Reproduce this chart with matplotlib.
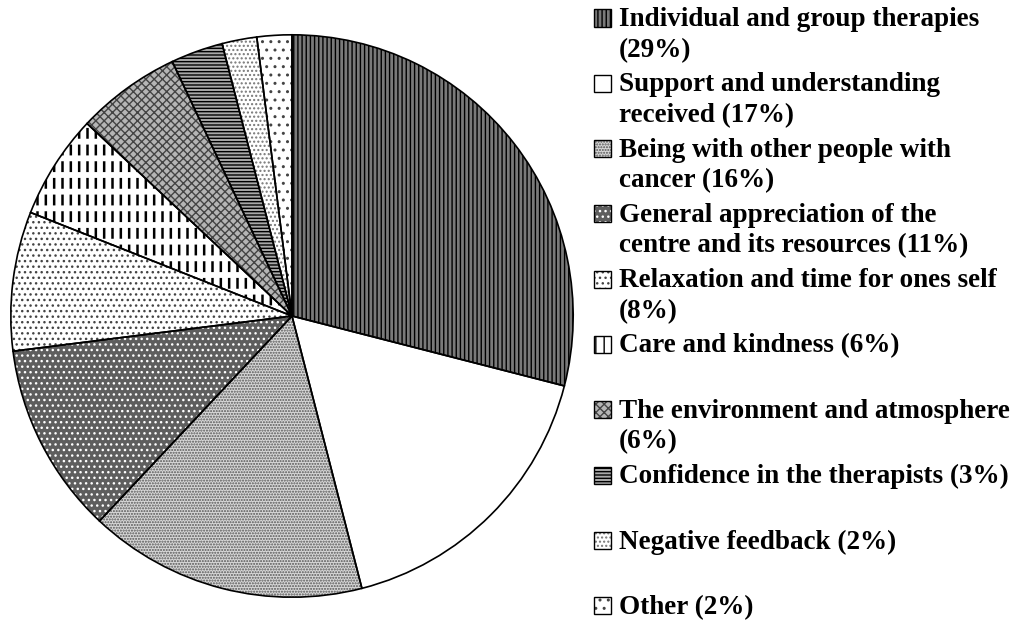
import matplotlib.pyplot as plt
from matplotlib.patches import Rectangle

# data
labels = ["Individual and group therapies\n(29%)",
          "Support and understanding\nreceived (17%)",
          "Being with other people with\ncancer (16%)",
          "General appreciation of the\ncentre and its resources (11%)",
          "Relaxation and time for ones self\n(8%)",
          "Care and kindness (6%)",
          "The environment and atmosphere\n(6%)",
          "Confidence in the therapists (3%)",
          "Negative feedback (2%)",
          "Other (2%)"]
values = [29, 17, 16, 11, 8, 6, 6, 3, 2, 2]

# look of each wedge: face, hatch, hatch colour
faces = ["#7a7a7a", "white", "#d8d8d8", "#5e5e5e", "white", "white", "#b5b5b5", "#a8a8a8", "white", "white"]
hatches = ["||||", None, "......", "...", "...", "||", "xxxx", "-----", "....", ".."]
hcols = ["black", "white", "#555555", "white", "#444444", "black", "#444444", "black", "#777777", "#444444"]
# white cuts laid over a hatch (turns the lines of "Care" into dashes)
cuts = [None, None, None, None, None, "-", None, None, None, None]

W, H = 1022, 624
fig = plt.figure(figsize=(W / 100, H / 100), dpi=100)
cx, cy, r = 292, 316, 284
ax = fig.add_axes([(cx - r) / W, (H - cy - r) / H, 2 * r / W, 2 * r / H])

wedges, _ = ax.pie(values, startangle=90, counterclock=False, radius=1,
                   wedgeprops=dict(linewidth=0))
for w, f, h, c in zip(wedges, faces, hatches, hcols):
    w.set_facecolor(f)
    w.set_edgecolor(c)
    w.set_hatch(h)
    if h == "||" and hasattr(w, "set_hatch_linewidth"):
        w.set_hatch_linewidth(1.8)
cutw, _ = ax.pie(values, startangle=90, counterclock=False, radius=1,
                 wedgeprops=dict(facecolor="none", linewidth=0, edgecolor="white"))
for w, h in zip(cutw, cuts):
    w.set_hatch(h)
    if h and hasattr(w, "set_hatch_linewidth"):
        w.set_hatch_linewidth(4.2)
# black outlines on top
outl, _ = ax.pie(values, startangle=90, counterclock=False, radius=1,
                 wedgeprops=dict(fill=False, edgecolor="black", linewidth=1.2))
ax.set_xlim(-1.01, 1.01)
ax.set_ylim(-1.01, 1.01)
ax.set_aspect("equal")

# legend drawn by hand: square by first line, entries evenly spaced
font = dict(family="Liberation Serif", weight="bold", size=19.5)
for i, lab in enumerate(labels):
    ymid = 18 + 65.3 * i
    box = (594 / W, 1 - (ymid + 8.5) / H)
    fig.add_artist(Rectangle(box, 17 / W, 17 / H, transform=fig.transFigure,
                             facecolor=faces[i], edgecolor=hcols[i], hatch=hatches[i], linewidth=0))
    fig.add_artist(Rectangle(box, 17 / W, 17 / H, transform=fig.transFigure,
                             fill=False, edgecolor="black", linewidth=1))
    fig.text(619 / W, 1 - (ymid - 11) / H, lab, va="top", ha="left", linespacing=1.3, **font)

fig.savefig("out.png", dpi=100)
